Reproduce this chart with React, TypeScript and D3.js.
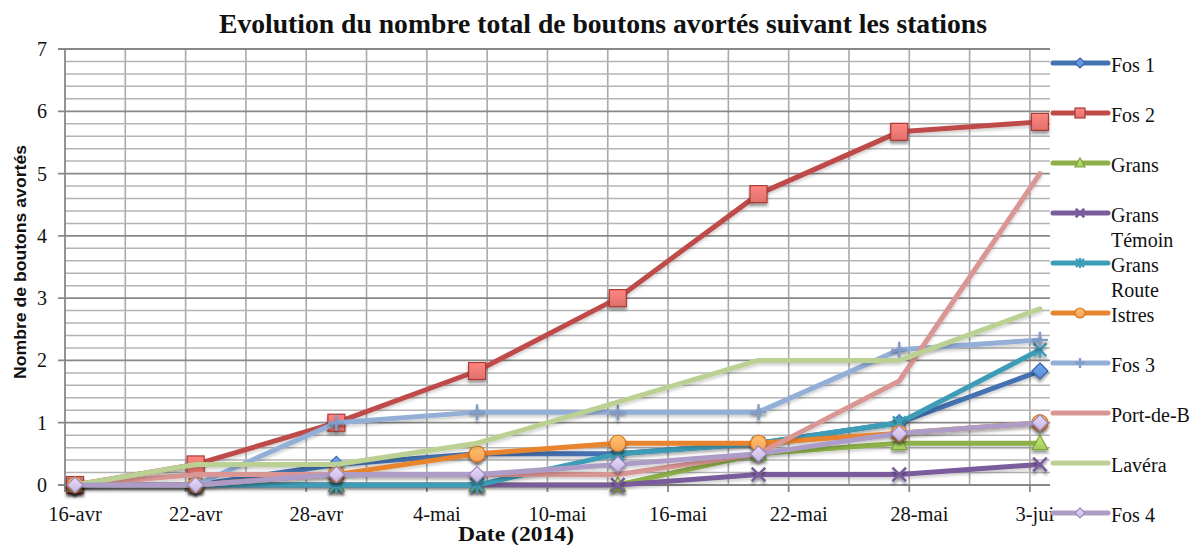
import React from "react";
import * as d3 from "d3";

const dates = ["2014-04-16", "2014-04-22", "2014-04-29", "2014-05-06", "2014-05-13", "2014-05-20", "2014-05-27", "2014-06-03"];

const seriesNames = ["Fos 1", "Fos 2", "Grans", "Grans Témoin", "Grans Route", "Istres", "Fos 3", "Port-de-B", "Lavéra", "Fos 4"];

const fos1 = [0, 0, 0.33, 0.5, 0.5, 0.67, 1.0, 1.83];
const fos2 = [0, 0.33, 1.0, 1.83, 3.0, 4.67, 5.67, 5.83];
const grans = [0, 0, 0, 0, 0, 0.5, 0.67, 0.67];
const gransTemoin = [0, 0, 0, 0, 0, 0.17, 0.17, 0.33];
const gransRoute = [0, 0, 0, 0, 0.5, 0.67, 1.0, 2.17];
const istres = [0, 0, 0.17, 0.5, 0.67, 0.67, 0.83, 1.0];
const fos3 = [0, 0, 1.0, 1.17, 1.17, 1.17, 2.17, 2.33];
const portDeB = [0, 0.17, 0.17, 0.17, 0.17, 0.5, 1.67, 5.0];
const lavera = [0, 0.33, 0.33, 0.67, 1.33, 2.0, 2.0, 2.83];
const fos4 = [0, 0, 0.17, 0.17, 0.33, 0.5, 0.83, 1.0];

const seriesValues = [fos1, fos2, grans, gransTemoin, gransRoute, istres, fos3, portDeB, lavera, fos4];

const xTickLabels = ["16-avr", "22-avr", "28-avr", "4-mai", "10-mai", "16-mai", "22-mai", "28-mai", "3-juin"];
const yTickLabels = ["0", "1", "2", "3", "4", "5", "6", "7"];

const title = "Evolution du nombre total de boutons avortés suivant les stations";
const xTitle = "Date (2014)";
const yTitle = "Nombre de boutons avortés";

// styles
const colors = ["#4472B0", "#BE4B48", "#8DB04A", "#7A5C9C", "#3E9DB6", "#E8832F", "#93AFD6", "#D99694", "#BAD193", "#AE9CC8"];
const markerFill = ["#5B8BD0", "#E0706C", "#A4C95E", "#7A5C9C", "#3E9DB6", "#F7A25A", "#93AFD6", "none", "none", "#C5B6DD"];
const markerStroke = ["#3A64A0", "#A83A37", "#7FA23C", "#6E4F91", "#2F8AA2", "#D8741F", "#7F9CC8", "none", "none", "#9A88B8"];
const markers = ["diamond", "square", "triangle", "x", "asterisk", "circle", "plus", "none", "none", "diamond"];

const W = 1202;
const H = 545;
const left = 65;
const right = 1050;
const top = 49;
const bottom = 485;

const parse = (s: string) => {
  const [yy, m, d] = s.split("-").map(Number);
  return new Date(Date.UTC(yy, m - 1, d));
};
const DAY = 86400000;
const start = parse("2014-04-16");
const end = new Date(start.getTime() + 49 * DAY);

const x = d3.scaleUtc().domain([start, end]).range([left, right]);
const y = d3.scaleLinear().domain([0, 7]).range([bottom, top]);

function Marker({ type, cx, cy, s, i }: { type: string; cx: number; cy: number; s: number; i: number }) {
  const fill = `url(#grad${i})`;
  const stroke = markerStroke[i];
  const h = s / 2;
  if (type === "diamond") {
    return <path d={`M${cx},${cy - h}L${cx + h},${cy}L${cx},${cy + h}L${cx - h},${cy}Z`} fill={fill} stroke={stroke} strokeWidth={1.2} />;
  }
  if (type === "square") {
    return <rect x={cx - h} y={cy - h} width={s} height={s} fill={fill} stroke={stroke} strokeWidth={1.2} />;
  }
  if (type === "triangle") {
    return <path d={`M${cx},${cy - h}L${cx + h},${cy + h * 0.8}L${cx - h},${cy + h * 0.8}Z`} fill={fill} stroke={stroke} strokeWidth={1.2} />;
  }
  if (type === "circle") {
    return <circle cx={cx} cy={cy} r={h} fill={fill} stroke={stroke} strokeWidth={1.2} />;
  }
  if (type === "x") {
    const k = h * 0.85;
    return <path d={`M${cx - k},${cy - k}L${cx + k},${cy + k}M${cx - k},${cy + k}L${cx + k},${cy - k}`} stroke={colors[i]} strokeWidth={2.6} fill="none" />;
  }
  if (type === "asterisk") {
    const k = h * 0.8;
    return <path d={`M${cx - k},${cy - k}L${cx + k},${cy + k}M${cx - k},${cy + k}L${cx + k},${cy - k}M${cx},${cy - h}L${cx},${cy + h}`} stroke={colors[i]} strokeWidth={2.4} fill="none" />;
  }
  if (type === "plus") {
    return <path d={`M${cx - h},${cy}L${cx + h},${cy}M${cx},${cy - h}L${cx},${cy + h}`} stroke={markerStroke[i]} strokeWidth={2.4} fill="none" />;
  }
  return null;
}

export default function App() {
  const pts = dates.map((d) => new Date(parse(d).getTime() + DAY / 2));
  const line = d3
    .line<number>()
    .x((_, k) => x(pts[k]))
    .y((v) => y(v));

  const minor = d3.range(0, 35).map((k) => k * 0.2).filter((v, k) => k % 5 !== 0);
  const major = d3.range(0, 8);
  const vGrid = d3.range(3, 49, 3).map((k) => new Date(start.getTime() + k * DAY));
  const xTicks = xTickLabels.map((_, k) => new Date(start.getTime() + k * 6 * DAY));

  const serif = "'Liberation Serif', 'DejaVu Serif', serif";

  return (
    <div style={{ position: "absolute", left: 0, top: 0 }}>
      <svg width={W} height={H} style={{ display: "block", background: "#fff" }}>
        <defs>
          <filter id="shadow" x="-50%" y="-50%" width="200%" height="200%">
            <feDropShadow dx="0" dy="3" stdDeviation="1.8" floodColor="#000" floodOpacity="0.4" />
          </filter>
          <filter id="lshadow" x="-10%" y="-10%" width="120%" height="130%">
            <feDropShadow dx="0" dy="2.5" stdDeviation="1.5" floodColor="#000" floodOpacity="0.18" />
          </filter>
          {seriesNames.map((_, i) => (
            <linearGradient key={i} id={`grad${i}`} x1="0" y1="0" x2="0" y2="1">
              <stop offset="0" stopColor={d3.color(markerFill[i] === "none" ? colors[i] : markerFill[i])!.brighter(0.5).formatHex()} />
              <stop offset="1" stopColor={markerFill[i] === "none" ? colors[i] : markerFill[i]} />
            </linearGradient>
          ))}
        </defs>

        {/* title */}
        <text x={603} y={33} textAnchor="middle" fontFamily={serif} fontWeight="bold" fontSize={26.5} fill="#111" textLength={768} lengthAdjust="spacingAndGlyphs">
          {title}
        </text>

        {/* gridlines */}
        {vGrid.map((d, k) => (
          <line key={"v" + k} x1={x(d)} x2={x(d)} y1={top} y2={bottom} stroke="#a9a9a9" strokeWidth={1.6} />
        ))}
        {minor.map((v, k) => (
          <line key={"mn" + k} x1={left} x2={right} y1={y(v)} y2={y(v)} stroke="#b4b4b4" strokeWidth={1.5} />
        ))}
        {major.map((v) => (
          <line key={"mj" + v} x1={left - 7} x2={right} y1={y(v)} y2={y(v)} stroke="#888" strokeWidth={1.8} />
        ))}
        {/* axes */}
        <line x1={left} x2={left} y1={top} y2={bottom} stroke="#888" strokeWidth={1.8} />
        <line x1={left} x2={right} y1={bottom} y2={bottom} stroke="#888" strokeWidth={1.8} />
        {xTicks.map((d, k) => (
          <line key={"xt" + k} x1={x(d)} x2={x(d)} y1={bottom} y2={bottom + 7} stroke="#888" strokeWidth={1.8} />
        ))}

        {/* y tick labels */}
        {yTickLabels.map((t, k) => (
          <text key={"yl" + k} x={47} y={y(k) + 7} textAnchor="end" fontFamily={serif} fontSize={20} fill="#111">
            {t}
          </text>
        ))}
        {/* x tick labels */}
        {xTickLabels.map((t, k) => (
          <text key={"xl" + k} x={x(new Date(xTicks[k].getTime() + DAY / 2))} y={521} textAnchor="middle" fontFamily={serif} fontSize={20.5} fill="#111">
            {t}
          </text>
        ))}

        {/* axis titles */}
        <text x={516} y={541} textAnchor="middle" fontFamily={serif} fontWeight="bold" fontSize={21} fill="#111" textLength={116} lengthAdjust="spacingAndGlyphs">
          {xTitle}
        </text>
        <text
          transform={`translate(26,262) rotate(-90)`}
          textAnchor="middle"
          fontFamily="'Liberation Sans', Arial, sans-serif"
          fontWeight="bold"
          fontSize={16.5}
          fill="#111"
          textLength={234}
          lengthAdjust="spacingAndGlyphs"
        >
          {yTitle}
        </text>

        {/* series */}
        {seriesValues.map((vals, i) => (
          <g key={"s" + i}>
            <path d={line(vals) || ""} fill="none" stroke={colors[i]} strokeWidth={5} strokeLinejoin="round" strokeLinecap="round" filter="url(#lshadow)" />
            {markers[i] !== "none" && (
              <g filter="url(#shadow)">
                {vals.map((v, k) => (
                  <Marker key={k} type={markers[i]} cx={x(pts[k])} cy={y(v)} s={markers[i] === "square" ? 17 : 16} i={i} />
                ))}
              </g>
            )}
          </g>
        ))}

        {/* legend */}
        <rect x={1055} y={40} width={147} height={500} fill="#fff" />
        {seriesNames.map((name, i) => {
          const ly = 63 + i * 50;
          const parts = name.split(" ");
          const lines = name.startsWith("Grans ") ? [parts[0], parts.slice(1).join(" ")] : [name];
          return (
            <g key={"lg" + i}>
              <line x1={1053} x2={1108} y1={ly} y2={ly} stroke={colors[i]} strokeWidth={5} strokeLinecap="round" />
              {markers[i] !== "none" && <Marker type={markers[i]} cx={1080} cy={ly} s={10} i={i} />}
              <text x={1111} y={ly + 9} fontFamily={serif} fontSize={20} fill="#111">
                {lines.map((l, k) => (
                  <tspan key={k} x={1111} dy={k === 0 ? 0 : 25}>
                    {l}
                  </tspan>
                ))}
              </text>
            </g>
          );
        })}
      </svg>
    </div>
  );
}
